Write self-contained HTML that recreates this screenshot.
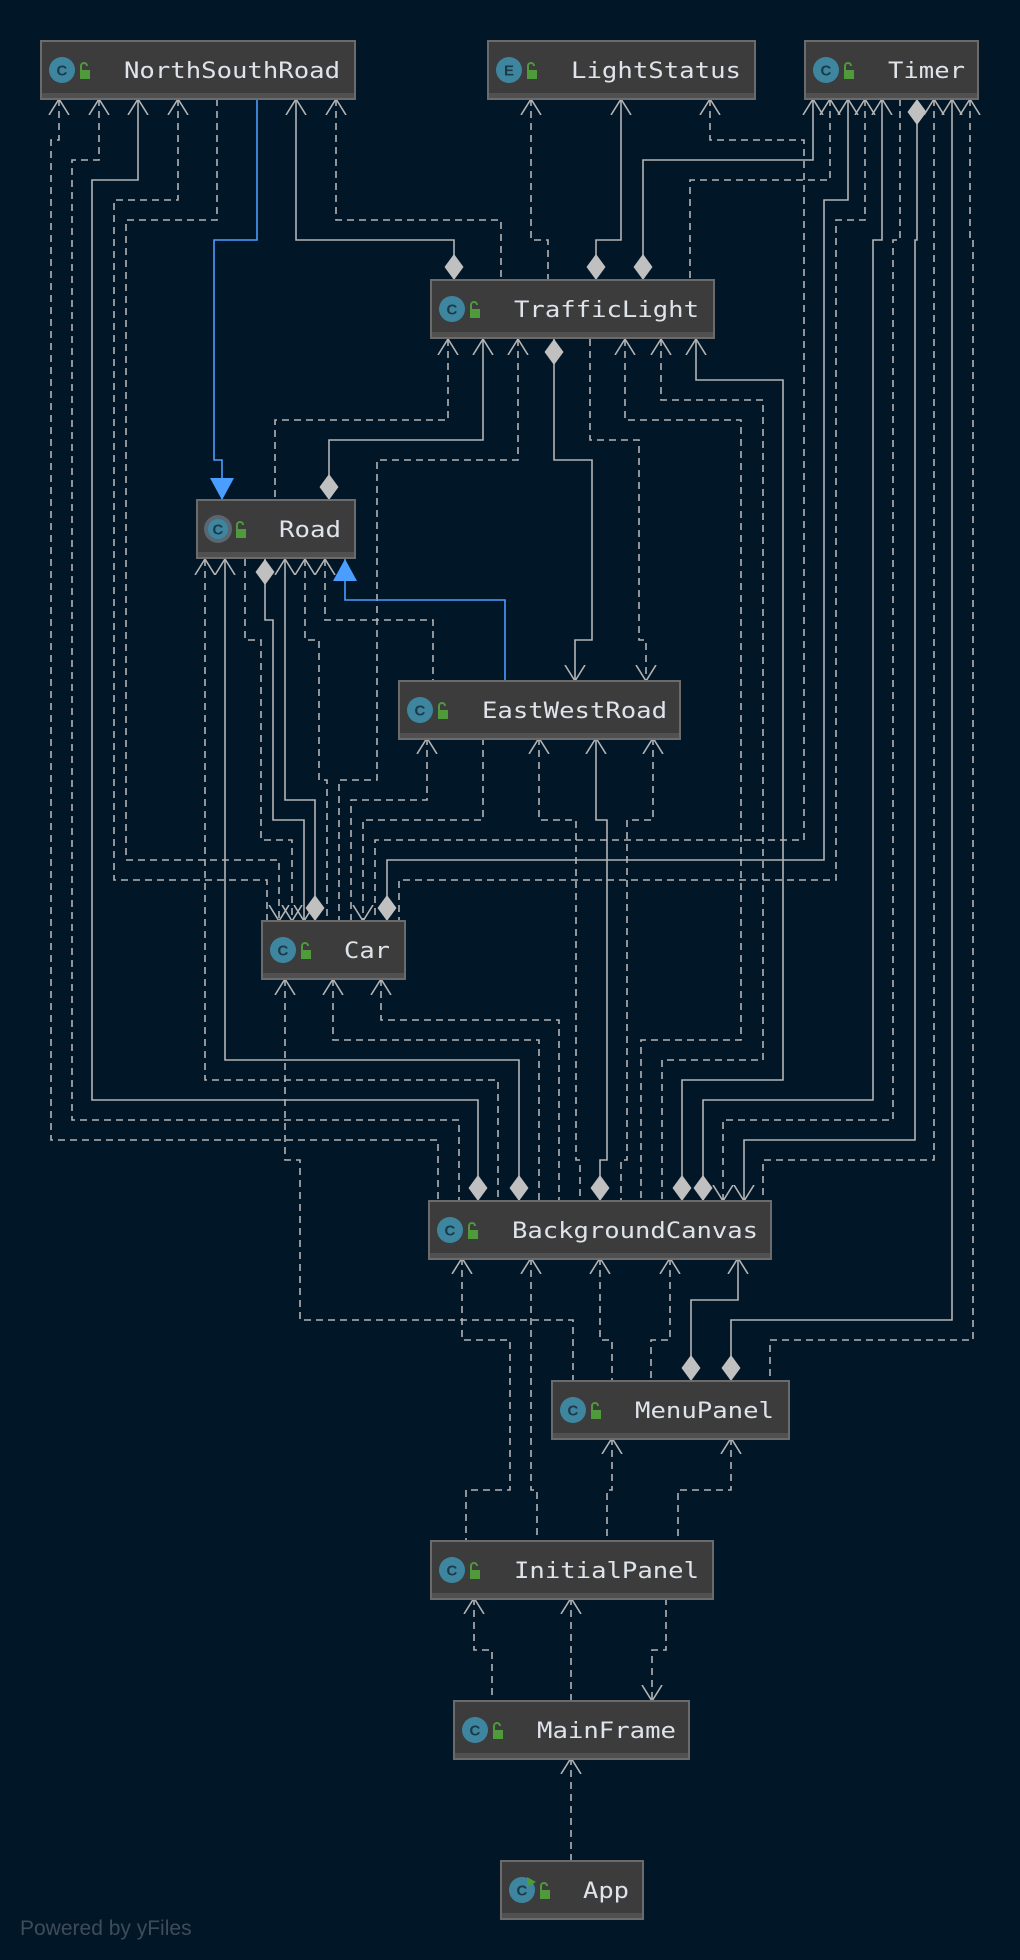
<!DOCTYPE html>
<html><head><meta charset="utf-8"><style>
html,body{margin:0;padding:0;background:#011627;}
svg{display:block}
.d{fill:none;stroke:#b4b4b4;stroke-width:1.6;stroke-dasharray:7,5}
.s{fill:none;stroke:#b4b4b4;stroke-width:1.6}
.b{fill:none;stroke:#4a9eff;stroke-width:1.6}
.t{font-family:"DejaVu Sans Mono","Liberation Mono",monospace;font-size:22px;fill:#dfe3ea}
.ic{font-family:"Liberation Sans",sans-serif;font-size:15px;font-weight:bold;fill:#1b3a48}
</style></head><body>
<svg width="1020" height="1960" viewBox="0 0 1020 1960" xmlns="http://www.w3.org/2000/svg">
<defs>
<marker id="a" viewBox="0 0 17 22" refX="16" refY="11" markerWidth="17" markerHeight="22" markerUnits="userSpaceOnUse" orient="auto-start-reverse"><path d="M0,1 L16,11 L0,21" fill="none" stroke="#b4b4b4" stroke-width="1.6"/></marker>
<marker id="dm" viewBox="0 0 26 19" refX="26" refY="9.5" markerWidth="26" markerHeight="19" markerUnits="userSpaceOnUse" orient="auto-start-reverse"><path d="M0,9.5 L13,0 L26,9.5 L13,19 Z" fill="#c0c0c0"/></marker>
<marker id="tr" viewBox="0 0 22 24" refX="22" refY="12" markerWidth="22" markerHeight="24" markerUnits="userSpaceOnUse" orient="auto-start-reverse"><path d="M0,0 L22,12 L0,24 Z" fill="#4a9eff"/></marker>
</defs>

<path class="d" marker-start="url(#a)" d="M59,99 V140 H51 V1140 H438 V1201"/>
<path class="d" marker-start="url(#a)" d="M99,99 V160 H72 V1120 H459 V1201"/>
<path class="s" marker-start="url(#a)" marker-end="url(#dm)" d="M138,99 V180 H92 V1100 H478 V1201"/>
<path class="d" marker-start="url(#a)" d="M178,99 V200 H114 V880 H267 V921"/>
<path class="d" marker-end="url(#a)" d="M217,99 V220 H126 V860 H279 V921"/>
<path class="b" marker-end="url(#tr)" d="M257,99 V240 H214 V460 H222 V500"/>
<path class="s" marker-start="url(#a)" marker-end="url(#dm)" d="M296,99 V240 H454 V280"/>
<path class="d" marker-start="url(#a)" d="M336,99 V220 H501 V280"/>
<path class="d" marker-start="url(#a)" d="M531,99 V240 H548 V280"/>
<path class="s" marker-start="url(#a)" marker-end="url(#dm)" d="M621,99 V240 H596 V280"/>
<path class="d" marker-start="url(#a)" d="M710,99 V140 H804 V840 H375 V921"/>
<path class="s" marker-start="url(#a)" marker-end="url(#dm)" d="M813,99 V160 H643 V280"/>
<path class="d" marker-start="url(#a)" d="M830,99 V180 H690 V280"/>
<path class="s" marker-start="url(#a)" marker-end="url(#dm)" d="M848,99 V200 H824 V860 H387 V921"/>
<path class="d" marker-start="url(#a)" d="M865,99 V220 H836 V880 H399 V921"/>
<path class="s" marker-start="url(#a)" marker-end="url(#dm)" d="M882,99 V240 H873 V1100 H703 V1201"/>
<path class="d" marker-end="url(#a)" d="M900,99 V240 H893 V1120 H723 V1201"/>
<path class="s" marker-start="url(#dm)" marker-end="url(#a)" d="M917,99 V240 H915 V1140 H744 V1201"/>
<path class="d" marker-start="url(#a)" d="M934,99 V1160 H763 V1201"/>
<path class="s" marker-start="url(#a)" marker-end="url(#dm)" d="M952,99 V1320 H731 V1381"/>
<path class="d" marker-start="url(#a)" d="M970,99 V240 H973 V1340 H770 V1381"/>
<path class="d" marker-start="url(#a)" d="M448,339 V420 H275 V500"/>
<path class="s" marker-start="url(#a)" marker-end="url(#dm)" d="M483,339 V440 H329 V500"/>
<path class="d" marker-start="url(#a)" d="M518,339 V460 H377 V780 H339 V921"/>
<path class="s" marker-start="url(#dm)" marker-end="url(#a)" d="M554,339 V460 H592 V640 H575 V681"/>
<path class="d" marker-end="url(#a)" d="M590,339 V440 H639 V640 H646 V681"/>
<path class="d" marker-start="url(#a)" d="M625,339 V420 H741 V1040 H641 V1201"/>
<path class="d" marker-start="url(#a)" d="M661,339 V400 H763 V1060 H662 V1201"/>
<path class="s" marker-start="url(#a)" marker-end="url(#dm)" d="M696,339 V380 H783 V1080 H682 V1201"/>
<path class="d" marker-start="url(#a)" d="M205,559 V1080 H498 V1201"/>
<path class="s" marker-start="url(#a)" marker-end="url(#dm)" d="M225,559 V1060 H519 V1201"/>
<path class="d" marker-end="url(#a)" d="M245,559 V640 H261 V840 H292 V921"/>
<path class="s" marker-start="url(#dm)" marker-end="url(#a)" d="M265,559 V620 H273 V820 H304 V921"/>
<path class="s" marker-start="url(#a)" marker-end="url(#dm)" d="M285,559 V800 H315 V921"/>
<path class="d" marker-start="url(#a)" d="M305,559 V640 H319 V780 H327 V921"/>
<path class="d" marker-start="url(#a)" d="M325,559 V620 H433 V681"/>
<path class="b" marker-start="url(#tr)" d="M345,559 V600 H505 V681"/>
<path class="d" marker-start="url(#a)" d="M427,738 V800 H351 V921"/>
<path class="d" marker-end="url(#a)" d="M483,738 V820 H363 V921"/>
<path class="d" marker-start="url(#a)" d="M539,738 V820 H576 V1160 H580 V1201"/>
<path class="s" marker-start="url(#a)" marker-end="url(#dm)" d="M596,738 V820 H607 V1160 H600 V1201"/>
<path class="d" marker-start="url(#a)" d="M653,738 V820 H627 V1160 H621 V1201"/>
<path class="d" marker-start="url(#a)" d="M285,979 V1160 H300 V1320 H573 V1381"/>
<path class="d" marker-start="url(#a)" d="M333,979 V1040 H539 V1201"/>
<path class="d" marker-start="url(#a)" d="M381,979 V1020 H559 V1201"/>
<path class="d" marker-start="url(#a)" d="M462,1258 V1340 H510 V1490 H466 V1541"/>
<path class="d" marker-start="url(#a)" d="M531,1258 V1490 H537 V1541"/>
<path class="d" marker-start="url(#a)" d="M600,1258 V1340 H612 V1381"/>
<path class="d" marker-start="url(#a)" d="M670,1258 V1340 H651 V1381"/>
<path class="s" marker-start="url(#a)" marker-end="url(#dm)" d="M738,1258 V1300 H691 V1381"/>
<path class="d" marker-start="url(#a)" d="M612,1438 V1490 H607 V1541"/>
<path class="d" marker-start="url(#a)" d="M731,1438 V1490 H678 V1541"/>
<path class="d" marker-start="url(#a)" d="M474,1598 V1650 H492 V1701"/>
<path class="d" marker-start="url(#a)" d="M571,1598 V1701"/>
<path class="d" marker-end="url(#a)" d="M666,1598 V1650 H652 V1701"/>
<path class="d" marker-start="url(#a)" d="M571,1758 V1861"/>

<g>
<g transform="translate(41,41)"><rect x="0" y="0" width="314" height="58" fill="#3c3c3c" stroke="#6b6b6b" stroke-width="2"/><rect x="1" y="52" width="312" height="5" fill="#505050"/><circle cx="21" cy="29" r="13" fill="#3e86a0"/><text class="ic" x="15.5" y="34.5">C</text><rect x="39" y="29" width="10" height="9" fill="#4f9a3a"/><path d="M40,29 v-4 a3,3 0 0 1 6,0" fill="none" stroke="#4f9a3a" stroke-width="2"/><text class="t" x="83" y="37" textLength="216" lengthAdjust="spacingAndGlyphs">NorthSouthRoad</text></g>
<g transform="translate(488,41)"><rect x="0" y="0" width="267" height="58" fill="#3c3c3c" stroke="#6b6b6b" stroke-width="2"/><rect x="1" y="52" width="265" height="5" fill="#505050"/><circle cx="21" cy="29" r="13" fill="#3e86a0"/><text class="ic" x="16" y="34.5">E</text><rect x="39" y="29" width="10" height="9" fill="#4f9a3a"/><path d="M40,29 v-4 a3,3 0 0 1 6,0" fill="none" stroke="#4f9a3a" stroke-width="2"/><text class="t" x="83" y="37" textLength="170" lengthAdjust="spacingAndGlyphs">LightStatus</text></g>
<g transform="translate(805,41)"><rect x="0" y="0" width="173" height="58" fill="#3c3c3c" stroke="#6b6b6b" stroke-width="2"/><rect x="1" y="52" width="171" height="5" fill="#505050"/><circle cx="21" cy="29" r="13" fill="#3e86a0"/><text class="ic" x="15.5" y="34.5">C</text><rect x="39" y="29" width="10" height="9" fill="#4f9a3a"/><path d="M40,29 v-4 a3,3 0 0 1 6,0" fill="none" stroke="#4f9a3a" stroke-width="2"/><text class="t" x="83" y="37" textLength="77" lengthAdjust="spacingAndGlyphs">Timer</text></g>
<g transform="translate(431,280)"><rect x="0" y="0" width="283" height="58" fill="#3c3c3c" stroke="#6b6b6b" stroke-width="2"/><rect x="1" y="52" width="281" height="5" fill="#505050"/><circle cx="21" cy="29" r="13" fill="#3e86a0"/><text class="ic" x="15.5" y="34.5">C</text><rect x="39" y="29" width="10" height="9" fill="#4f9a3a"/><path d="M40,29 v-4 a3,3 0 0 1 6,0" fill="none" stroke="#4f9a3a" stroke-width="2"/><text class="t" x="83" y="37" textLength="185" lengthAdjust="spacingAndGlyphs">TrafficLight</text></g>
<g transform="translate(197,500)"><rect x="0" y="0" width="158" height="58" fill="#3c3c3c" stroke="#6b6b6b" stroke-width="2"/><rect x="1" y="52" width="156" height="5" fill="#505050"/><circle cx="21" cy="29" r="14" fill="#5a6670"/><circle cx="21" cy="29" r="10" fill="#3e86a0"/><text class="ic" x="15.5" y="34.5">C</text><rect x="39" y="29" width="10" height="9" fill="#4f9a3a"/><path d="M40,29 v-4 a3,3 0 0 1 6,0" fill="none" stroke="#4f9a3a" stroke-width="2"/><text class="t" x="82" y="37" textLength="62" lengthAdjust="spacingAndGlyphs">Road</text></g>
<g transform="translate(399,681)"><rect x="0" y="0" width="281" height="58" fill="#3c3c3c" stroke="#6b6b6b" stroke-width="2"/><rect x="1" y="52" width="279" height="5" fill="#505050"/><circle cx="21" cy="29" r="13" fill="#3e86a0"/><text class="ic" x="15.5" y="34.5">C</text><rect x="39" y="29" width="10" height="9" fill="#4f9a3a"/><path d="M40,29 v-4 a3,3 0 0 1 6,0" fill="none" stroke="#4f9a3a" stroke-width="2"/><text class="t" x="83" y="37" textLength="185" lengthAdjust="spacingAndGlyphs">EastWestRoad</text></g>
<g transform="translate(262,921)"><rect x="0" y="0" width="143" height="58" fill="#3c3c3c" stroke="#6b6b6b" stroke-width="2"/><rect x="1" y="52" width="141" height="5" fill="#505050"/><circle cx="21" cy="29" r="13" fill="#3e86a0"/><text class="ic" x="15.5" y="34.5">C</text><rect x="39" y="29" width="10" height="9" fill="#4f9a3a"/><path d="M40,29 v-4 a3,3 0 0 1 6,0" fill="none" stroke="#4f9a3a" stroke-width="2"/><text class="t" x="82" y="37" textLength="46" lengthAdjust="spacingAndGlyphs">Car</text></g>
<g transform="translate(429,1201)"><rect x="0" y="0" width="342" height="58" fill="#3c3c3c" stroke="#6b6b6b" stroke-width="2"/><rect x="1" y="52" width="340" height="5" fill="#505050"/><circle cx="21" cy="29" r="13" fill="#3e86a0"/><text class="ic" x="15.5" y="34.5">C</text><rect x="39" y="29" width="10" height="9" fill="#4f9a3a"/><path d="M40,29 v-4 a3,3 0 0 1 6,0" fill="none" stroke="#4f9a3a" stroke-width="2"/><text class="t" x="83" y="37" textLength="246" lengthAdjust="spacingAndGlyphs">BackgroundCanvas</text></g>
<g transform="translate(552,1381)"><rect x="0" y="0" width="237" height="58" fill="#3c3c3c" stroke="#6b6b6b" stroke-width="2"/><rect x="1" y="52" width="235" height="5" fill="#505050"/><circle cx="21" cy="29" r="13" fill="#3e86a0"/><text class="ic" x="15.5" y="34.5">C</text><rect x="39" y="29" width="10" height="9" fill="#4f9a3a"/><path d="M40,29 v-4 a3,3 0 0 1 6,0" fill="none" stroke="#4f9a3a" stroke-width="2"/><text class="t" x="83" y="37" textLength="139" lengthAdjust="spacingAndGlyphs">MenuPanel</text></g>
<g transform="translate(431,1541)"><rect x="0" y="0" width="282" height="58" fill="#3c3c3c" stroke="#6b6b6b" stroke-width="2"/><rect x="1" y="52" width="280" height="5" fill="#505050"/><circle cx="21" cy="29" r="13" fill="#3e86a0"/><text class="ic" x="15.5" y="34.5">C</text><rect x="39" y="29" width="10" height="9" fill="#4f9a3a"/><path d="M40,29 v-4 a3,3 0 0 1 6,0" fill="none" stroke="#4f9a3a" stroke-width="2"/><text class="t" x="83" y="37" textLength="185" lengthAdjust="spacingAndGlyphs">InitialPanel</text></g>
<g transform="translate(454,1701)"><rect x="0" y="0" width="235" height="58" fill="#3c3c3c" stroke="#6b6b6b" stroke-width="2"/><rect x="1" y="52" width="233" height="5" fill="#505050"/><circle cx="21" cy="29" r="13" fill="#3e86a0"/><text class="ic" x="15.5" y="34.5">C</text><rect x="39" y="29" width="10" height="9" fill="#4f9a3a"/><path d="M40,29 v-4 a3,3 0 0 1 6,0" fill="none" stroke="#4f9a3a" stroke-width="2"/><text class="t" x="83" y="37" textLength="139" lengthAdjust="spacingAndGlyphs">MainFrame</text></g>
<g transform="translate(501,1861)"><rect x="0" y="0" width="142" height="58" fill="#3c3c3c" stroke="#6b6b6b" stroke-width="2"/><rect x="1" y="52" width="140" height="5" fill="#505050"/><circle cx="21" cy="29" r="13" fill="#3e86a0"/><text class="ic" x="15.5" y="34.5">C</text><path d="M26,16 L35,21 L26,26 Z" fill="#4f9a3a"/><rect x="39" y="29" width="10" height="9" fill="#4f9a3a"/><path d="M40,29 v-4 a3,3 0 0 1 6,0" fill="none" stroke="#4f9a3a" stroke-width="2"/><text class="t" x="82" y="37" textLength="46" lengthAdjust="spacingAndGlyphs">App</text></g>
</g>
<text x="20" y="1935" font-family="Liberation Sans, sans-serif" font-size="21" fill="#3e4c5a">Powered by yFiles</text>
</svg>
</body></html>
